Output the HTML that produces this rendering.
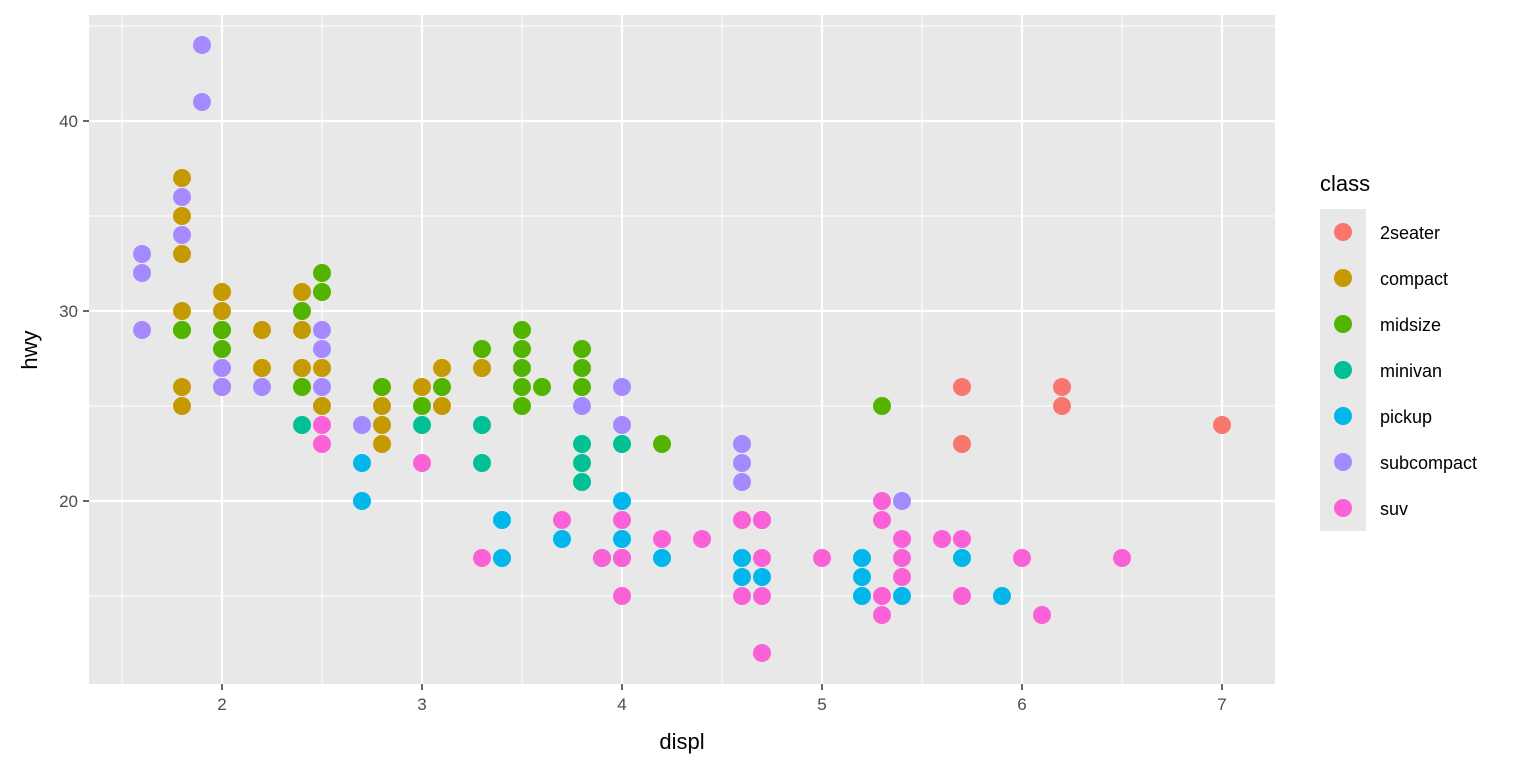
<!DOCTYPE html>
<html><head><meta charset="utf-8"><style>body{margin:0;background:#fff}svg{display:block}text{font-family:"Liberation Sans",Arial,sans-serif}</style></head>
<body>
<svg width="1536" height="768" viewBox="0 0 1536 768" xmlns="http://www.w3.org/2000/svg">
<rect x="89" y="15" width="1186" height="669" fill="#e8e8e8"/>
<g stroke="#fff" stroke-width="1">
<line x1="122" y1="15" x2="122" y2="684"/><line x1="322" y1="15" x2="322" y2="684"/><line x1="522" y1="15" x2="522" y2="684"/><line x1="722" y1="15" x2="722" y2="684"/><line x1="922" y1="15" x2="922" y2="684"/><line x1="1122" y1="15" x2="1122" y2="684"/>
<line x1="89" y1="596" x2="1275" y2="596"/><line x1="89" y1="406" x2="1275" y2="406"/><line x1="89" y1="216" x2="1275" y2="216"/><line x1="89" y1="26" x2="1275" y2="26"/>
</g>
<g stroke="#fff" stroke-width="2.2">
<line x1="222" y1="15" x2="222" y2="684"/><line x1="422" y1="15" x2="422" y2="684"/><line x1="622" y1="15" x2="622" y2="684"/><line x1="822" y1="15" x2="822" y2="684"/><line x1="1022" y1="15" x2="1022" y2="684"/><line x1="1222" y1="15" x2="1222" y2="684"/>
<line x1="89" y1="501" x2="1275" y2="501"/><line x1="89" y1="311" x2="1275" y2="311"/><line x1="89" y1="121" x2="1275" y2="121"/>
</g>
<g stroke="#333" stroke-width="1.5">
<line x1="222" y1="684" x2="222" y2="690"/><line x1="422" y1="684" x2="422" y2="690"/><line x1="622" y1="684" x2="622" y2="690"/><line x1="822" y1="684" x2="822" y2="690"/><line x1="1022" y1="684" x2="1022" y2="690"/><line x1="1222" y1="684" x2="1222" y2="690"/>
<line x1="83" y1="501" x2="89" y2="501"/><line x1="83" y1="311" x2="89" y2="311"/><line x1="83" y1="121" x2="89" y2="121"/>
</g>
<g fill="#4d4d4d" font-size="17" text-anchor="middle">
<text x="222" y="710">2</text><text x="422" y="710">3</text><text x="622" y="710">4</text><text x="822" y="710">5</text><text x="1022" y="710">6</text><text x="1222" y="710">7</text>
</g>
<g fill="#4d4d4d" font-size="17" text-anchor="end">
<text x="78" y="507">20</text><text x="78" y="317">30</text><text x="78" y="127">40</text>
</g>
<text x="682" y="749" font-size="22" text-anchor="middle" fill="#000">displ</text>
<text transform="translate(37,350) rotate(-90)" font-size="22" text-anchor="middle" fill="#000">hwy</text>

<g fill="#C49A00">
<circle cx="182" cy="178" r="9"/><circle cx="182" cy="216" r="9"/><circle cx="182" cy="254" r="9"/><circle cx="182" cy="311" r="9"/><circle cx="182" cy="330" r="9"/><circle cx="182" cy="387" r="9"/><circle cx="182" cy="406" r="9"/>
<circle cx="222" cy="292" r="9"/><circle cx="222" cy="311" r="9"/><circle cx="222" cy="330" r="9"/><circle cx="222" cy="387" r="9"/>
<circle cx="262" cy="330" r="9"/><circle cx="262" cy="368" r="9"/>
<circle cx="302" cy="292" r="9"/><circle cx="302" cy="330" r="9"/><circle cx="302" cy="368" r="9"/>
<circle cx="322" cy="368" r="9"/><circle cx="322" cy="406" r="9"/>
<circle cx="382" cy="406" r="9"/><circle cx="382" cy="425" r="9"/><circle cx="382" cy="444" r="9"/>
<circle cx="422" cy="387" r="9"/><circle cx="442" cy="368" r="9"/><circle cx="442" cy="406" r="9"/><circle cx="482" cy="368" r="9"/>
</g>
<g fill="#53B400">
<circle cx="182" cy="330" r="9"/><circle cx="222" cy="330" r="9"/><circle cx="222" cy="349" r="9"/>
<circle cx="302" cy="311" r="9"/><circle cx="302" cy="387" r="9"/>
<circle cx="322" cy="273" r="9"/><circle cx="322" cy="292" r="9"/>
<circle cx="382" cy="387" r="9"/><circle cx="422" cy="406" r="9"/><circle cx="442" cy="387" r="9"/><circle cx="482" cy="349" r="9"/>
<circle cx="522" cy="330" r="9"/><circle cx="522" cy="349" r="9"/><circle cx="522" cy="368" r="9"/><circle cx="522" cy="387" r="9"/><circle cx="522" cy="406" r="9"/>
<circle cx="542" cy="387" r="9"/>
<circle cx="582" cy="349" r="9"/><circle cx="582" cy="368" r="9"/><circle cx="582" cy="387" r="9"/>
<circle cx="662" cy="444" r="9"/><circle cx="882" cy="406" r="9"/>
</g>
<g fill="#00C094">
<circle cx="302" cy="425" r="9"/><circle cx="422" cy="425" r="9"/><circle cx="482" cy="425" r="9"/><circle cx="482" cy="463" r="9"/>
<circle cx="582" cy="444" r="9"/><circle cx="582" cy="463" r="9"/><circle cx="582" cy="482" r="9"/><circle cx="622" cy="444" r="9"/>
</g>
<g fill="#A58AFF">
<circle cx="142" cy="254" r="9"/><circle cx="142" cy="273" r="9"/><circle cx="142" cy="330" r="9"/>
<circle cx="182" cy="197" r="9"/><circle cx="182" cy="235" r="9"/>
<circle cx="202" cy="45" r="9"/><circle cx="202" cy="102" r="9"/>
<circle cx="222" cy="368" r="9"/><circle cx="222" cy="387" r="9"/><circle cx="262" cy="387" r="9"/>
<circle cx="322" cy="330" r="9"/><circle cx="322" cy="349" r="9"/><circle cx="322" cy="387" r="9"/>
<circle cx="362" cy="425" r="9"/><circle cx="582" cy="406" r="9"/>
<circle cx="622" cy="387" r="9"/><circle cx="622" cy="425" r="9"/>
<circle cx="742" cy="444" r="9"/><circle cx="742" cy="463" r="9"/><circle cx="742" cy="482" r="9"/>
<circle cx="902" cy="501" r="9"/>
</g>
<g fill="#00B6EB">
<circle cx="362" cy="463" r="9"/><circle cx="362" cy="501" r="9"/>
<circle cx="502" cy="520" r="9"/><circle cx="502" cy="558" r="9"/><circle cx="562" cy="539" r="9"/><circle cx="602" cy="558" r="9"/>
<circle cx="622" cy="501" r="9"/><circle cx="622" cy="539" r="9"/><circle cx="622" cy="558" r="9"/>
<circle cx="662" cy="558" r="9"/>
<circle cx="742" cy="558" r="9"/><circle cx="742" cy="577" r="9"/><circle cx="762" cy="520" r="9"/><circle cx="762" cy="577" r="9"/>
<circle cx="862" cy="558" r="9"/><circle cx="862" cy="577" r="9"/><circle cx="862" cy="596" r="9"/>
<circle cx="902" cy="596" r="9"/><circle cx="962" cy="558" r="9"/><circle cx="1002" cy="596" r="9"/>
</g>
<g fill="#FB61D7">
<circle cx="322" cy="425" r="9"/><circle cx="322" cy="444" r="9"/><circle cx="422" cy="463" r="9"/><circle cx="482" cy="558" r="9"/>
<circle cx="562" cy="520" r="9"/><circle cx="602" cy="558" r="9"/>
<circle cx="622" cy="520" r="9"/><circle cx="622" cy="558" r="9"/><circle cx="622" cy="596" r="9"/>
<circle cx="662" cy="539" r="9"/><circle cx="702" cy="539" r="9"/>
<circle cx="742" cy="520" r="9"/><circle cx="742" cy="596" r="9"/>
<circle cx="762" cy="520" r="9"/><circle cx="762" cy="558" r="9"/><circle cx="762" cy="596" r="9"/><circle cx="762" cy="653" r="9"/>
<circle cx="822" cy="558" r="9"/>
<circle cx="882" cy="501" r="9"/><circle cx="882" cy="520" r="9"/><circle cx="882" cy="596" r="9"/><circle cx="882" cy="615" r="9"/>
<circle cx="902" cy="539" r="9"/><circle cx="902" cy="558" r="9"/><circle cx="902" cy="577" r="9"/>
<circle cx="942" cy="539" r="9"/><circle cx="962" cy="539" r="9"/><circle cx="962" cy="596" r="9"/>
<circle cx="1022" cy="558" r="9"/><circle cx="1042" cy="615" r="9"/><circle cx="1122" cy="558" r="9"/>
</g>
<g fill="#F8766D">
<circle cx="962" cy="387" r="9"/><circle cx="962" cy="444" r="9"/><circle cx="1062" cy="387" r="9"/><circle cx="1062" cy="406" r="9"/><circle cx="1222" cy="425" r="9"/>
</g>

<text x="1320" y="191" font-size="22" fill="#000">class</text>
<rect x="1320" y="209" width="46" height="322" fill="#e8e8e8"/>
<g font-size="18" fill="#000">
<circle cx="1343" cy="232" r="9" fill="#F8766D"/><text x="1380" y="239">2seater</text>
<circle cx="1343" cy="278" r="9" fill="#C49A00"/><text x="1380" y="285">compact</text>
<circle cx="1343" cy="324" r="9" fill="#53B400"/><text x="1380" y="331">midsize</text>
<circle cx="1343" cy="370" r="9" fill="#00C094"/><text x="1380" y="377">minivan</text>
<circle cx="1343" cy="416" r="9" fill="#00B6EB"/><text x="1380" y="423">pickup</text>
<circle cx="1343" cy="462" r="9" fill="#A58AFF"/><text x="1380" y="469">subcompact</text>
<circle cx="1343" cy="508" r="9" fill="#FB61D7"/><text x="1380" y="515">suv</text>
</g>
</svg>
</body></html>
